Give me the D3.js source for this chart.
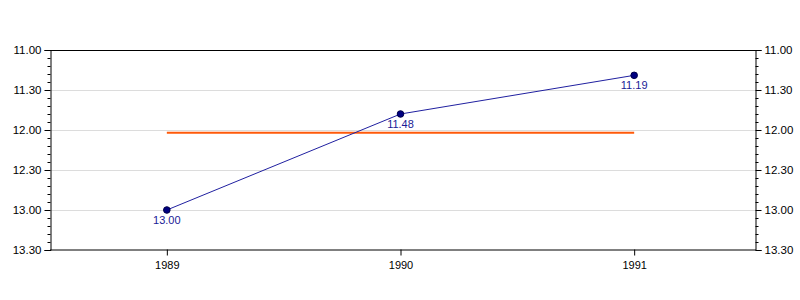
<!DOCTYPE html>
<html>
<head>
<meta charset="utf-8">
<script src="https://cdn.jsdelivr.net/npm/d3@7"></script>
<style>
  body { margin: 0; background: #fff; }
  svg { display: block; font-family: "Liberation Sans", Arial, sans-serif; }
</style>
</head>
<body>
<div id="chart"></div>
<script>
// --- data (times as minutes.seconds) ---
const years = ['1989', '1990', '1991'];
const times = ['13.00', '11.48', '11.19'];
const avgTime = '12.02';
const yTickLabels = ['11.00', '11.30', '12.00', '12.30', '13.00', '13.30'];

// minutes.seconds -> seconds
const toSec = s => { const [m, ss] = s.split('.'); return (+m) * 60 + (+ss); };
const fmt = sec => `${Math.floor(sec / 60)}.${String(sec % 60).padStart(2, '0')}`;

const width = 800, height = 300;
const plotLeft = 50, plotRight = 755, plotTop = 50, plotBottom = 250;

const svg = d3.select('#chart').append('svg')
    .attr('width', width)
    .attr('height', height);

const x = d3.scalePoint()
    .domain(years)
    .range([plotLeft, 751])
    .padding(0.5);

const yTicks = yTickLabels.map(toSec);
const y = d3.scaleLinear()
    .domain([d3.min(yTicks), d3.max(yTicks)])   // inverted: smaller time at top
    .range([plotTop, plotBottom]);

// gridlines
svg.append('g')
    .selectAll('line')
    .data(yTicks.slice(1, -1))
    .enter().append('line')
    .attr('x1', plotLeft).attr('x2', plotRight)
    .attr('y1', d => Math.round(y(d)) + 0.5)
    .attr('y2', d => Math.round(y(d)) + 0.5)
    .attr('stroke', '#dcdcdc');

// minor ticks every 6 seconds
const minor = d3.range(y.domain()[0], y.domain()[1] + 1, 6).filter(d => !yTicks.includes(d));

function yAxis(axis, xpos) {
    const g = svg.append('g')
        .attr('transform', `translate(${xpos + 0.5},0)`)
        .call(axis.tickValues(yTicks).tickFormat(fmt).tickSize(6).tickPadding(3));
    g.select('.domain').attr('stroke', '#000');
    g.selectAll('.tick text').attr('font-size', 11.5).attr('fill', '#000')
        .attr('font-family', '"Liberation Sans", Arial, sans-serif');
    g.selectAll('.tick line').attr('stroke', '#000');
    return g;
}
yAxis(d3.axisLeft(y), plotLeft);
yAxis(d3.axisRight(y), plotRight);

// minor tick marks
[[plotLeft, -3], [plotRight, 3]].forEach(([xp, len]) => {
    svg.append('g')
        .selectAll('line')
        .data(minor)
        .enter().append('line')
        .attr('x1', xp + 0.5).attr('x2', xp + 0.5 + len)
        .attr('y1', d => Math.round(y(d)) + 0.5)
        .attr('y2', d => Math.round(y(d)) + 0.5)
        .attr('stroke', '#000');
});

// top border
svg.append('line')
    .attr('x1', plotLeft).attr('x2', plotRight + 1)
    .attr('y1', plotTop + 0.5).attr('y2', plotTop + 0.5)
    .attr('stroke', '#000');

// x axis
const gx = svg.append('g')
    .attr('transform', `translate(0,${plotBottom - 0.5})`)
    .call(d3.axisBottom(x).tickSize(6).tickPadding(6).tickSizeOuter(0));
gx.select('.domain').attr('d', `M${plotLeft},0.5H${plotRight + 1}`).attr('stroke', '#000');
gx.selectAll('.tick line').attr('stroke', '#000');
gx.selectAll('.tick text').attr('font-size', 11).attr('fill', '#000')
    .attr('font-family', '"Liberation Sans", Arial, sans-serif');

// average line
svg.append('line')
    .attr('x1', x(years[0])).attr('x2', x(years[years.length - 1]))
    .attr('y1', y(toSec(avgTime))).attr('y2', y(toSec(avgTime)))
    .attr('stroke', '#ff5a0a')
    .attr('stroke-width', 2);

// series
const pts = years.map((yr, i) => ({ yr, sec: toSec(times[i]), label: times[i] }));

svg.append('path')
    .datum(pts)
    .attr('fill', 'none')
    .attr('stroke', '#2020a0')
    .attr('stroke-width', 1)
    .attr('d', d3.line().x(d => x(d.yr)).y(d => y(d.sec)));

svg.append('g')
    .selectAll('circle')
    .data(pts)
    .enter().append('circle')
    .attr('cx', d => x(d.yr))
    .attr('cy', d => y(d.sec))
    .attr('r', 3.3)
    .attr('fill', '#000080')
    .attr('stroke', '#00004a')
    .attr('stroke-width', 1);

svg.append('g')
    .selectAll('text')
    .data(pts)
    .enter().append('text')
    .attr('x', d => x(d.yr))
    .attr('y', d => y(d.sec) + 14)
    .attr('text-anchor', 'middle')
    .attr('font-size', 11)
    .attr('fill', '#1a1a96')
    .text(d => d.label);
</script>
</body>
</html>
